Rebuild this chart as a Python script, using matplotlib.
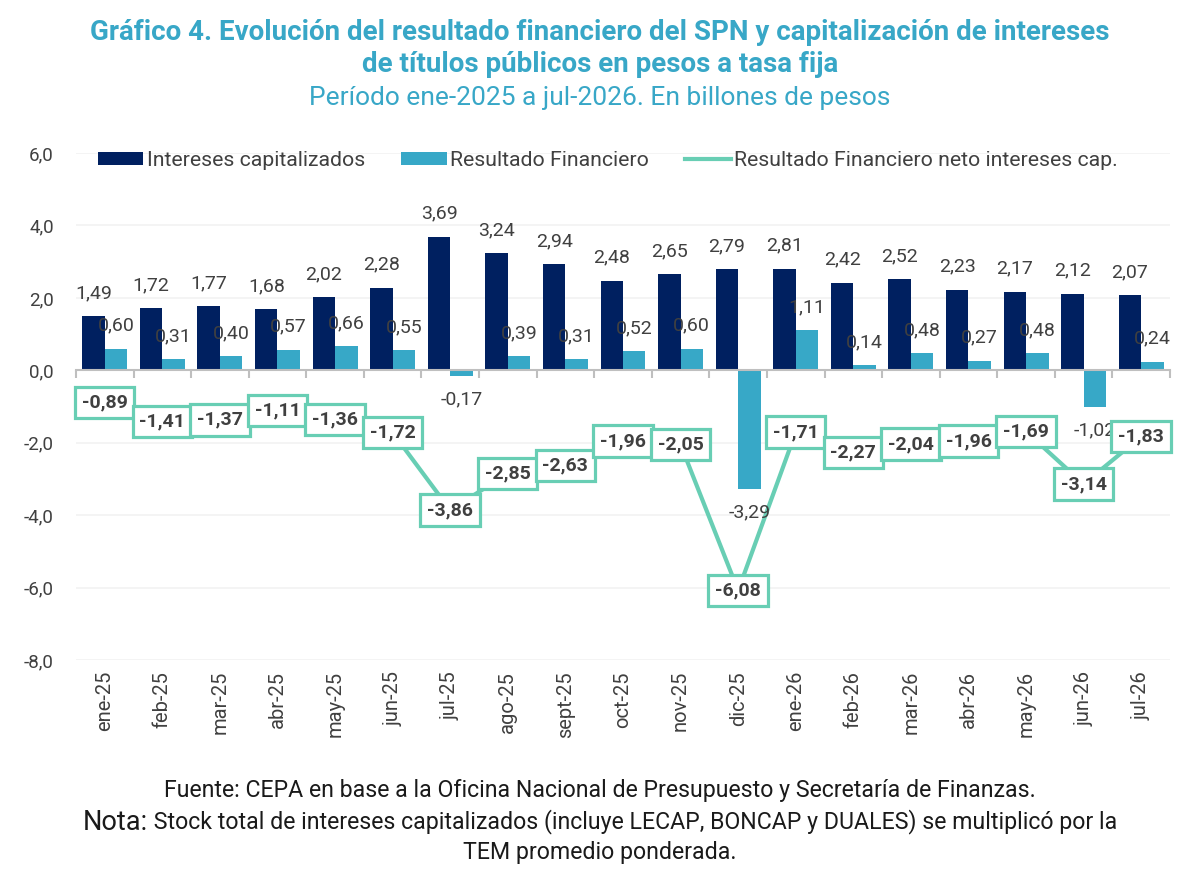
import numpy as np
import matplotlib
matplotlib.use("Agg")
import matplotlib.pyplot as plt

plt.rcParams['font.family'] = ['Roboto', 'DejaVu Sans']

meses = ['ene-25', 'feb-25', 'mar-25', 'abr-25', 'may-25', 'jun-25', 'jul-25',
         'ago-25', 'sept-25', 'oct-25', 'nov-25', 'dic-25', 'ene-26', 'feb-26',
         'mar-26', 'abr-26', 'may-26', 'jun-26', 'jul-26']
intereses = [1.49, 1.72, 1.77, 1.68, 2.02, 2.28, 3.69, 3.24, 2.94, 2.48,
             2.65, 2.79, 2.81, 2.42, 2.52, 2.23, 2.17, 2.12, 2.07]
resultado = [0.60, 0.31, 0.40, 0.57, 0.66, 0.55, -0.17, 0.39, 0.31, 0.52,
             0.60, -3.29, 1.11, 0.14, 0.48, 0.27, 0.48, -1.02, 0.24]
neto = [-0.89, -1.41, -1.37, -1.11, -1.36, -1.72, -3.86, -2.85, -2.63, -1.96,
        -2.05, -6.08, -1.71, -2.27, -2.04, -1.96, -1.69, -3.14, -1.83]
yticks = [6, 4, 2, 0, -2, -4, -6, -8]

navy = '#002060'
light = '#37A8C7'
teal = '#68CEB4'
title_c = '#38A7C7'
grey_txt = '#404040'


def fmt(v, d=2):
    return f'{v:.{d}f}'.replace('.', ',')


fig = plt.figure(figsize=(12, 8.75), dpi=100)
ax = fig.add_axes([0.0633, 0.2457, 0.9117, 0.5794])

x = np.arange(len(meses))
w = 0.39
b1 = ax.bar(x - w / 2, intereses, w, color=navy, zorder=2, label='Intereses capitalizados')
b2 = ax.bar(x + w / 2, resultado, w, color=light, zorder=2, label='Resultado Financiero')
ln, = ax.plot(x, neto, color=teal, lw=3, zorder=3, solid_joinstyle='round',
              label='Resultado Financiero neto intereses cap.')

# etiquetas de barras (23 px ~ 16.5 pt)
off = 16.5
for xi, v in zip(x, intereses):
    ax.annotate(fmt(v), (xi - w / 2, v), xytext=(0, off), textcoords='offset points',
                ha='center', va='center', fontsize=14, color=grey_txt, zorder=4)
for xi, v in zip(x, resultado):
    dy = off if v >= 0 else -off
    ax.annotate(fmt(v), (xi + w / 2, v), xytext=(0, dy), textcoords='offset points',
                ha='center', va='center', fontsize=14, color=grey_txt, zorder=4)

# etiquetas de la linea, en cajas
for xi, v in zip(x, neto):
    ax.text(xi, v, fmt(v), ha='center', va='center', fontsize=14, fontweight='bold',
            color=grey_txt, zorder=6,
            bbox=dict(boxstyle='square,pad=0.35', fc='white', ec=teal, lw=2.3))

ax.set_xlim(-0.5, len(meses) - 0.5)
ax.set_ylim(-8, 6)
ax.set_yticks(yticks)
ax.set_yticklabels([fmt(t, 1) for t in yticks])
ax.tick_params(axis='y', length=0, labelsize=13.5, labelcolor=grey_txt, pad=16)
ax.grid(axis='y', color='#F2F2F2', lw=1.2, zorder=0)
ax.set_axisbelow(True)

for s in ['top', 'right', 'left']:
    ax.spines[s].set_visible(False)
ax.spines['bottom'].set_position(('data', 0))
ax.spines['bottom'].set_color('#BFBFBF')
ax.spines['bottom'].set_linewidth(1.5)
ax.spines['bottom'].set_zorder(2.5)
ax.set_xticks(np.arange(len(meses) + 1) - 0.5)
ax.tick_params(axis='x', direction='out', length=6, width=1.5, color='#BFBFBF',
               labelbottom=False)

sec = ax.secondary_xaxis(0)
sec.set_xticks(x)
sec.set_xticklabels(meses, rotation=90)
sec.tick_params(length=0, labelsize=14.5, labelcolor=grey_txt, pad=8)
sec.spines['bottom'].set_visible(False)

leg = ax.legend(handles=[b1, b2, ln], loc='center', bbox_to_anchor=(0.486, 0.985),
                ncol=3, frameon=False, fontsize=15.3, handlelength=2.15,
                handleheight=0.55, handletextpad=0.15, columnspacing=1.7,
                borderaxespad=0.0)
for t in leg.get_texts():
    t.set_color(grey_txt)

fig.text(0.5, 1 - 32 / 875, 'Gráfico 4. Evolución del resultado financiero del SPN y capitalización de intereses',
         ha='center', va='center', fontsize=20, fontweight='bold', color=title_c)
fig.text(0.5, 1 - 65 / 875, 'de títulos públicos en pesos a tasa fija',
         ha='center', va='center', fontsize=20, fontweight='bold', color=title_c)
fig.text(0.5, 1 - 98 / 875, 'Período ene-2025 a jul-2026. En billones de pesos',
         ha='center', va='center', fontsize=19, color=title_c)

foot_c = '#1A1A1A'
fig.text(0.5, 1 - 791 / 875, 'Fuente: CEPA en base a la Oficina Nacional de Presupuesto y Secretaría de Finanzas.',
         ha='center', va='center', fontsize=16.7, color=foot_c)

# linea de nota: "Nota:" algo mas grande
fig.canvas.draw()
r = fig.canvas.get_renderer()
t1 = fig.text(0, 1 - 822 / 875, 'Nota:', ha='left', va='center', fontsize=19.5, color=foot_c)
t2 = fig.text(0, 1 - 822 / 875, ' Stock total de intereses capitalizados (incluye LECAP, BONCAP y DUALES) se multiplicó por la',
              ha='left', va='center', fontsize=16.7, color=foot_c)
w1 = t1.get_window_extent(r).width
w2 = t2.get_window_extent(r).width
x0 = (1200 - w1 - w2) / 2
t1.set_x(x0 / 1200)
t2.set_x((x0 + w1) / 1200)
fig.text(0.5, 1 - 852 / 875, 'TEM promedio ponderada.', ha='center', va='center',
         fontsize=16.7, color=foot_c)

fig.savefig('out.png', dpi=100)
